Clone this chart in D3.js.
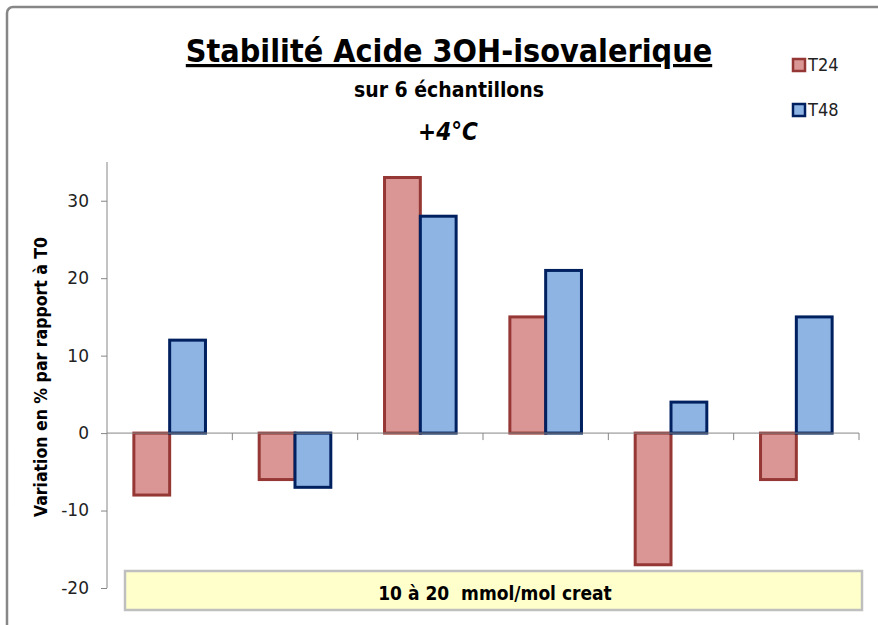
<!DOCTYPE html>
<html>
<head>
<meta charset="utf-8">
<script src="https://cdn.jsdelivr.net/npm/d3@7"></script>
<style>
  body { margin: 0; background: #fff; }
  .calibri { font-family: "DejaVu Sans Condensed", "Open Sans", sans-serif; }
</style>
</head>
<body>
<div id="chart"></div>
<script>
const categories = ["1", "2", "3", "4", "5", "6"];
const seriesNames = ["T24", "T48"];
const t24 = [-8, -6, 33, 15, -17, -6];
const t48 = [12, -7, 28, 21, 4, 15];
const yTicks = [-20, -10, 0, 10, 20, 30];

const fills = ["#D99694", "#8EB4E3"];
const strokes = ["#953735", "#002060"];

const svg = d3.select("#chart").append("svg")
    .attr("width", 878)
    .attr("height", 625);

// cadre du graphique (coupé à droite et en bas)
svg.append("rect")
    .attr("x", 7)
    .attr("y", 7)
    .attr("width", 900)
    .attr("height", 700)
    .attr("rx", 6)
    .attr("fill", "#fff")
    .attr("stroke", "#878787")
    .attr("stroke-width", 2.5);

const x = d3.scaleBand()
    .domain(categories)
    .range([107, 859]);

const y = d3.scaleLinear()
    .domain([-20, 35])
    .range([588, 162]);

const barW = x.bandwidth() / 3.5;
const series = [t24, t48];

// axe vertical
const yAxis = svg.append("g")
    .attr("transform", "translate(107,0)")
    .call(d3.axisLeft(y).tickValues(yTicks).tickSize(6).tickPadding(12).tickFormat(d => String(d)));
yAxis.select(".domain").attr("stroke", "#868686").attr("d", "M0," + y(35) + "V" + y(-20));
yAxis.selectAll(".tick line").attr("stroke", "#868686");
yAxis.selectAll(".tick text")
    .attr("font-family", "DejaVu Sans, Verdana, sans-serif")
    .attr("font-size", 17)
    .attr("fill", "#222");

// barres
series.forEach(function (vals, s) {
    svg.append("g").selectAll("rect")
        .data(vals)
        .join("rect")
        .attr("x", (d, i) => x(categories[i]) + x.bandwidth() / 2 - barW + s * barW)
        .attr("y", d => y(Math.max(0, d)))
        .attr("width", barW)
        .attr("height", d => Math.abs(y(d) - y(0)))
        .attr("fill", fills[s])
        .attr("stroke", strokes[s])
        .attr("stroke-width", 3);
});

// axe horizontal sur le zéro
const xAxis = svg.append("g")
    .attr("transform", "translate(0," + y(0) + ")");
xAxis.append("line")
    .attr("x1", 107).attr("x2", 859)
    .attr("stroke", "#868686");
xAxis.selectAll(".tk")
    .data(categories)
    .join("line")
    .attr("class", "tk")
    .attr("x1", d => x(d) + x.bandwidth())
    .attr("x2", d => x(d) + x.bandwidth())
    .attr("y1", 0)
    .attr("y2", 7)
    .attr("stroke", "#868686");

// titre de l'axe
svg.append("text")
    .attr("class", "calibri")
    .attr("transform", "translate(47,377) rotate(-90)")
    .attr("text-anchor", "middle")
    .attr("font-weight", "bold")
    .attr("font-size", 17.5)
    .text("Variation en % par rapport à T0");

// titres
svg.append("text")
    .attr("class", "calibri")
    .attr("x", 449).attr("y", 62)
    .attr("text-anchor", "middle")
    .attr("font-weight", "bold")
    .attr("font-size", 32)
    .attr("text-decoration", "underline")
    .text("Stabilité Acide 3OH-isovalerique");

svg.append("text")
    .attr("class", "calibri")
    .attr("x", 449).attr("y", 97)
    .attr("text-anchor", "middle")
    .attr("font-weight", "bold")
    .attr("font-size", 21)
    .text("sur 6 échantillons");

svg.append("text")
    .attr("class", "calibri")
    .attr("x", 448).attr("y", 140)
    .attr("text-anchor", "middle")
    .attr("font-weight", "bold")
    .attr("font-style", "italic")
    .attr("font-size", 24)
    .text("+4°C");

// légende
const legend = svg.append("g").selectAll("g")
    .data(seriesNames)
    .join("g")
    .attr("transform", (d, i) => "translate(793," + (59 + i * 45) + ")");
legend.append("rect")
    .attr("width", 12).attr("height", 12)
    .attr("fill", (d, i) => fills[i])
    .attr("stroke", (d, i) => strokes[i])
    .attr("stroke-width", 2.5);
legend.append("text")
    .attr("class", "calibri")
    .attr("x", 15).attr("y", 12)
    .attr("font-size", 18)
    .attr("fill", "#222")
    .text(d => d);

// encadré jaune
svg.append("rect")
    .attr("x", 125).attr("y", 571)
    .attr("width", 737).attr("height", 39)
    .attr("fill", "#FFFFCC")
    .attr("stroke", "#BFBFBF")
    .attr("stroke-width", 2.5);
svg.append("text")
    .attr("class", "calibri")
    .attr("x", 495).attr("y", 600)
    .attr("text-anchor", "middle")
    .attr("font-weight", "bold")
    .attr("font-size", 19)
    .style("white-space", "pre")
    .text("10 à 20  mmol/mol creat");
</script>
</body>
</html>
